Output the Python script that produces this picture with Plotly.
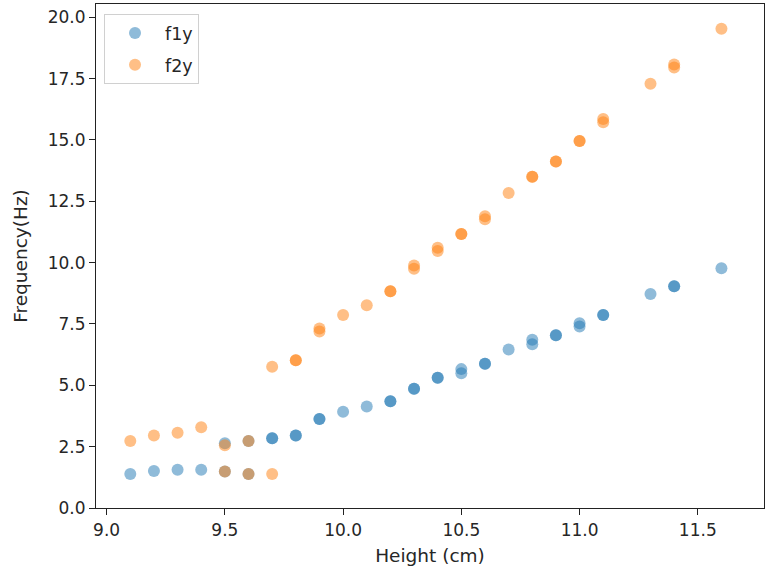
import plotly.graph_objects as go

# f1y series
f1_x = [9.1, 9.2, 9.3, 9.4, 9.5, 9.5, 9.6, 9.6, 9.7, 9.7, 9.8, 9.8, 9.9, 9.9,
        10.0, 10.1, 10.2, 10.2, 10.3, 10.3, 10.4, 10.4, 10.5, 10.5, 10.6, 10.6,
        10.7, 10.8, 10.8, 10.9, 10.9, 11.0, 11.0, 11.1, 11.1, 11.3, 11.4, 11.4, 11.6]
f1_y = [1.39, 1.51, 1.56, 1.56, 2.64, 1.49, 2.73, 1.39, 2.84, 2.84, 2.95, 2.95, 3.63, 3.63,
        3.92, 4.14, 4.35, 4.35, 4.86, 4.86, 5.31, 5.31, 5.66, 5.49, 5.88, 5.88,
        6.46, 6.86, 6.67, 7.04, 7.04, 7.53, 7.40, 7.87, 7.87, 8.72, 9.04, 9.04, 9.77]

# f2y series
f2_x = [9.1, 9.2, 9.3, 9.4, 9.5, 9.5, 9.6, 9.6, 9.7, 9.7, 9.8, 9.8, 9.9, 9.9,
        10.0, 10.1, 10.2, 10.2, 10.3, 10.3, 10.4, 10.4, 10.5, 10.5, 10.6, 10.6,
        10.7, 10.8, 10.8, 10.9, 10.9, 11.0, 11.0, 11.1, 11.1, 11.3, 11.4, 11.4, 11.6]
f2_y = [2.73, 2.95, 3.07, 3.29, 2.56, 1.49, 2.73, 1.39, 5.76, 1.39, 6.02, 6.02, 7.32, 7.19,
        7.87, 8.26, 8.83, 8.83, 9.88, 9.75, 10.61, 10.47, 11.17, 11.17, 11.89, 11.77,
        12.84, 13.50, 13.50, 14.12, 14.12, 14.96, 14.96, 15.85, 15.72, 17.29, 18.07, 17.95, 19.53]

x_ticks = [9.0, 9.5, 10.0, 10.5, 11.0, 11.5]
y_ticks = [0.0, 2.5, 5.0, 7.5, 10.0, 12.5, 15.0, 17.5, 20.0]

FONT = "DejaVu Sans"
TXT = "#262626"

fig = go.Figure()
fig.add_trace(go.Scatter(x=f1_x, y=f1_y, mode="markers", name="f1y", legendgroup="a",
                         marker=dict(color="#1f77b4", size=12, opacity=0.5, line=dict(width=0))))
fig.add_trace(go.Scatter(x=f2_x, y=f2_y, mode="markers", name="f2y", legendgroup="b",
                         marker=dict(color="#ff7f0e", size=12, opacity=0.5, line=dict(width=0))))

axis_common = dict(showgrid=False, zeroline=False, showline=True, linecolor="#222222",
                   linewidth=1.2, mirror=True, ticks="outside", ticklen=6, tickwidth=1.2,
                   tickcolor="#222222", tickfont=dict(family=FONT, size=17, color=TXT))

fig.update_layout(
    width=765, height=573,
    margin=dict(l=96, r=1, t=4, b=65),
    plot_bgcolor="white", paper_bgcolor="white",
    font=dict(family=FONT, size=17, color=TXT),
    xaxis=dict(range=[8.955, 11.78], tickvals=x_ticks,
               ticktext=[f"{v:.1f}" for v in x_ticks],
               title=dict(text="Height (cm)", font=dict(family=FONT, size=18.5, color=TXT), standoff=10),
               **axis_common),
    yaxis=dict(range=[0, 20.54], tickvals=y_ticks,
               ticktext=[f"{v:.1f}" for v in y_ticks],
               title=dict(text="Frequency(Hz)", font=dict(family=FONT, size=18.5, color=TXT), standoff=15),
               **axis_common),
    legend=dict(x=0.012, y=0.98, xanchor="left", yanchor="top",
                bgcolor="white", bordercolor="#d0d0d0", borderwidth=1,
                font=dict(family=FONT, size=17.5, color=TXT), traceorder="grouped",
                tracegroupgap=6, itemwidth=50),
    showlegend=True,
)

fig.write_html("out.html")
